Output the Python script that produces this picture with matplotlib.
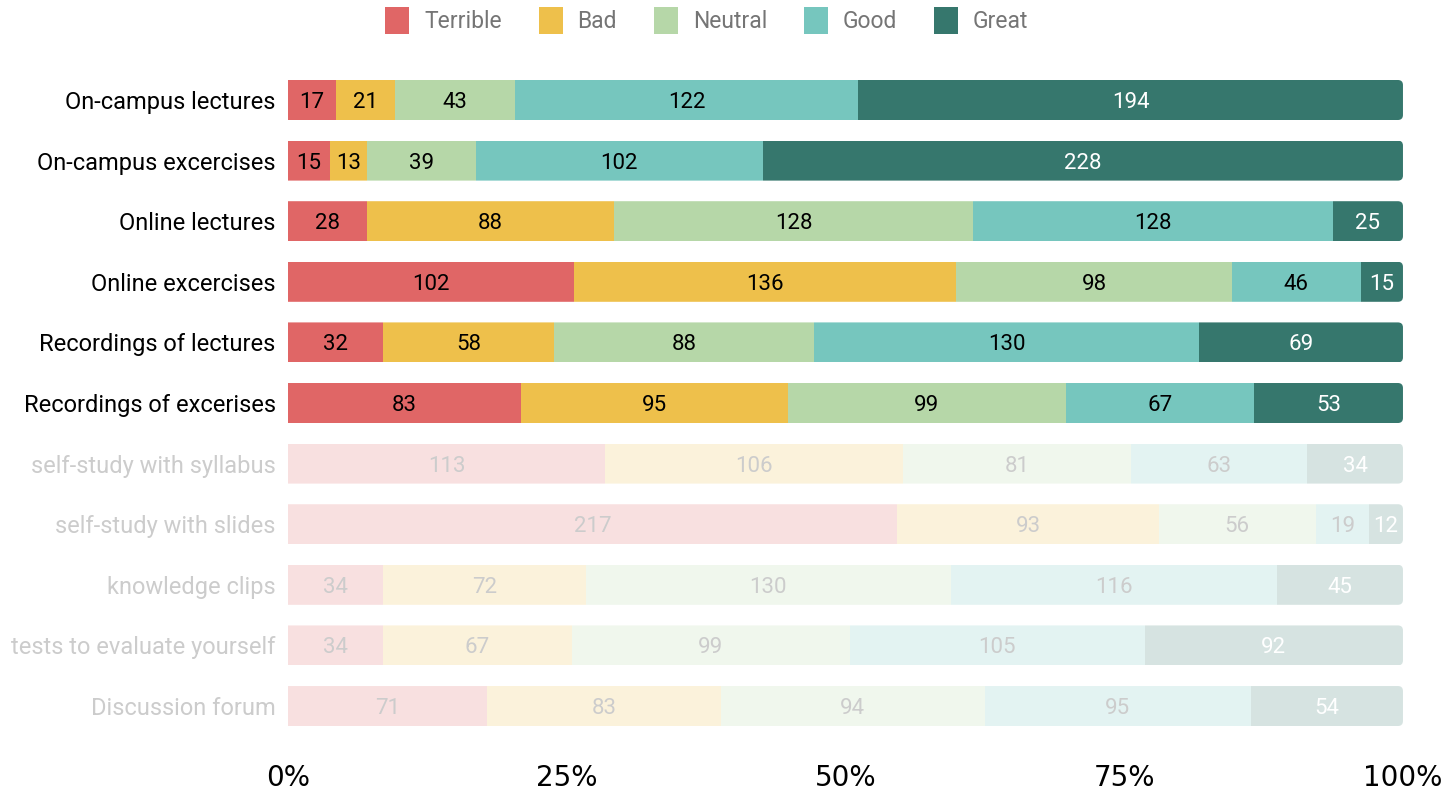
import numpy as np
import matplotlib
matplotlib.use('Agg')
from matplotlib import pyplot as plt
from matplotlib.patches import FancyBboxPatch, Patch

plt.rcParams['font.family'] = ['Roboto', 'DejaVu Sans']

categories = ['On-campus lectures', 'On-campus excercises', 'Online lectures',
              'Online excercises', 'Recordings of lectures', 'Recordings of excerises',
              'self-study with syllabus', 'self-study with slides', 'knowledge clips',
              'tests to evaluate yourself', 'Discussion forum']
levels = ['Terrible', 'Bad', 'Neutral', 'Good', 'Great']
terrible = [17, 15, 28, 102, 32, 83, 113, 217, 34, 34, 71]
bad = [21, 13, 88, 136, 58, 95, 106, 93, 72, 67, 83]
neutral = [43, 39, 128, 98, 88, 99, 81, 56, 130, 99, 94]
good = [122, 102, 128, 46, 130, 67, 63, 19, 116, 105, 95]
great = [194, 228, 25, 15, 69, 53, 34, 12, 45, 92, 54]
highlighted = 6  # first six rows drawn in full colour

colors = ['#e06666', '#eec04b', '#b6d7a8', '#76c6be', '#36776d']

counts = np.array([terrible, bad, neutral, good, great], dtype=float)
shares = counts / counts.sum(axis=0)

fig = plt.figure(figsize=(14.48, 7.92), dpi=100)
ax = fig.add_axes([0.1989, 0.0703, 0.7700, 0.8417])

y = np.arange(len(categories))
h = 0.66
left = np.zeros(len(categories))
bars_by_row = [[] for _ in categories]
for k in range(len(levels)):
    for i in y:
        faded = i >= highlighted
        b = ax.barh(i, shares[k, i], left=left[i], height=h, color=colors[k],
                    alpha=0.2 if faded else 1.0, linewidth=0)
        bars_by_row[i].append(b[0])
        if k == 4:
            tc = 'white'
        else:
            tc = '#cccccc' if faded else 'black'
        ax.text(left[i] + shares[k, i] / 2, i, '%d' % counts[k, i],
                ha='center', va='center_baseline', fontsize=16, color=tc)
    left += shares[k]

# round the right end of each row
for i in y:
    clip = FancyBboxPatch((-0.05, i - h / 2), 1.05, h,
                          boxstyle='round,pad=0,rounding_size=0.0045',
                          mutation_aspect=18.4, transform=ax.transData)
    for b in bars_by_row[i]:
        b.set_clip_path(clip)

ax.set_xlim(0, 1)
ax.set_ylim(len(categories) - 0.5, -0.5)
ax.set_yticks(y)
ax.set_yticklabels(categories, fontsize=17, va='center_baseline')
for i, lab in enumerate(ax.get_yticklabels()):
    lab.set_color('black' if i < highlighted else '#cccccc')
ax.set_xticks([0, 0.25, 0.5, 0.75, 1.0])
ax.set_xticklabels(['0%', '25%', '50%', '75%', '100%'], fontsize=20,
                   family='DejaVu Sans')
ax.tick_params(axis='y', length=0, pad=9)
ax.tick_params(axis='x', length=0, pad=20)
for s in ax.spines.values():
    s.set_visible(False)

handles = [Patch(facecolor=c, label=l) for c, l in zip(colors, levels)]
leg = fig.legend(handles=handles, loc='upper center', bbox_to_anchor=(0.488, 1.017),
                 ncol=5, frameon=False, fontsize=16.5, handlelength=1.05,
                 handleheight=1.45, handletextpad=0.65, columnspacing=1.6)
for t in leg.get_texts():
    t.set_color('#757575')

fig.savefig('out.png', dpi=100)
